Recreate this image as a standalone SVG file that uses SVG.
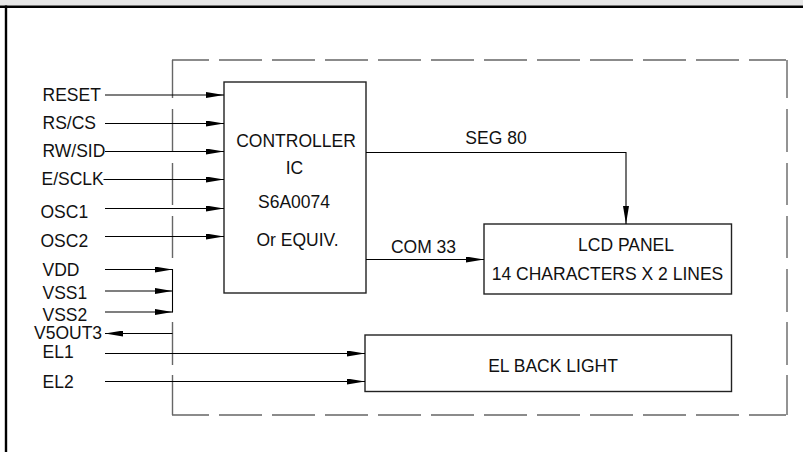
<svg xmlns="http://www.w3.org/2000/svg" width="803" height="452" viewBox="0 0 803 452">
<defs>
<marker id="ah" markerUnits="userSpaceOnUse" markerWidth="18" markerHeight="6" refX="18" refY="3" orient="auto">
<path d="M0,0 L18,3 L0,6 z" fill="#000"/>
</marker>
<style>
text{font-family:"Liberation Sans",Arial,sans-serif;font-size:17.5px;fill:#111}
.c{text-anchor:middle}
.box{fill:#fff;stroke:#222;stroke-width:1.4}
.dash{fill:none;stroke:#666;stroke-width:1.4}
.w{fill:none;stroke:#000;stroke-width:1.1}
.a{marker-end:url(#ah)}
</style>
</defs>
<rect x="0" y="0" width="803" height="452" fill="#fff"/>
<g id="frame">
<rect x="0" y="0" width="803" height="5.5" fill="#e6e6e6"/>
<line x1="0" y1="6.8" x2="803" y2="6.8" stroke="#000" stroke-width="2.6"/>
<line x1="6" y1="5.5" x2="6" y2="452" stroke="#000" stroke-width="2.4"/>
</g>
<g id="module-boundary">
<path class="dash" d="M172,60 H787" stroke-dasharray="37 10 43 10 43 10 43 10 43 10 43 10 43 10 43 10 43 10 43 10 43 10 37"/>
<path class="dash" d="M172,415 H787" stroke-dasharray="37 10 43 10 43 10 43 10 43 10 43 10 43 10 43 10 43 10 43 10 43 10 37"/>
<path class="dash" d="M787,60 V415" stroke-dasharray="38 11 43 11 42 11 42 11 43 10 43 10 40"/>
<path class="dash" d="M172.5,60 V415" stroke-dasharray="38 11 43 11 42 11 42 11 0 53 43 10 40"/>
</g>
<g id="controller">
<rect class="box" x="224" y="82" width="142" height="211"/>
<text class="c" x="296" y="146.5">CONTROLLER</text>
<text class="c" x="294.5" y="174">IC</text>
<text class="c" x="294" y="208">S6A0074</text>
<text class="c" x="297.5" y="245.5">Or EQUIV.</text>
</g>
<g id="lcd-panel">
<rect class="box" x="484" y="224" width="247.5" height="70"/>
<text class="c" x="626" y="251">LCD PANEL</text>
<text class="c" x="607.5" y="280">14 CHARACTERS X 2 LINES</text>
</g>
<g id="el-backlight">
<rect class="box" x="365" y="335" width="366.5" height="56.5"/>
<text class="c" x="553" y="371.5">EL BACK LIGHT</text>
</g>
<g id="pins">
<text x="42.5" y="101">RESET</text>
<text x="42.5" y="128.5">RS/CS</text>
<text x="42.5" y="157">RW/SID</text>
<text x="41.5" y="184.5">E/SCLK</text>
<text x="40.5" y="217.5">OSC1</text>
<text x="40.5" y="246.5">OSC2</text>
<text x="42.5" y="276">VDD</text>
<text x="42.5" y="299">VSS1</text>
<text x="42.5" y="320.5">VSS2</text>
<text x="34" y="339">V5OUT3</text>
<text x="42.5" y="358">EL1</text>
<text x="42.5" y="388">EL2</text>
</g>
<g id="connectors">
<line class="w a" x1="105" y1="95" x2="224" y2="95"/>
<line class="w a" x1="105" y1="123.5" x2="224" y2="123.5"/>
<line class="w a" x1="105" y1="151.5" x2="224" y2="151.5"/>
<line class="w a" x1="103.5" y1="179.5" x2="224" y2="179.5"/>
<line class="w a" x1="105" y1="208.5" x2="224" y2="208.5"/>
<line class="w a" x1="105" y1="236.5" x2="224" y2="236.5"/>
<line class="w a" x1="105" y1="269.5" x2="172.5" y2="269.5"/>
<line class="w a" x1="105" y1="291" x2="172.5" y2="291"/>
<line class="w a" x1="105" y1="312" x2="172.5" y2="312"/>
<line class="w" x1="172.5" y1="269" x2="172.5" y2="312.5" stroke-width="1.3"/>
<line class="w a" x1="172.5" y1="333.5" x2="105" y2="333.5"/>
<line class="w a" x1="105" y1="353.5" x2="365" y2="353.5"/>
<line class="w a" x1="105" y1="381.5" x2="365" y2="381.5"/>
<path class="w a" d="M366,152.5 H626 V224"/>
<line class="w a" x1="366" y1="259.5" x2="484" y2="259.5"/>
<text class="c" x="496" y="143.5">SEG 80</text>
<text class="c" x="423.5" y="252.5">COM 33</text>
</g>
</svg>
